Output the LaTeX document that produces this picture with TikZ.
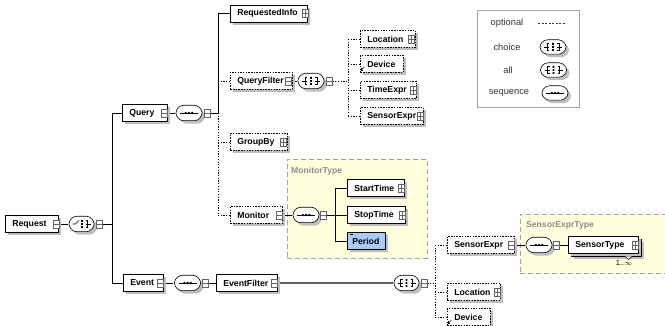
\documentclass[tikz,border=0pt]{standalone}
\usepackage{fontspec}
\setmainfont{Liberation Sans}
\usetikzlibrary{shadows,calc}
\pgfdeclarelayer{yellow}
\pgfdeclarelayer{lines}
\pgfsetlayers{yellow,lines,main}

\definecolor{ybg}{RGB}{255,255,222}
\definecolor{yborder}{RGB}{165,165,150}
\definecolor{shadowgray}{RGB}{190,190,190}
\definecolor{periodblue}{RGB}{168,204,244}
\definecolor{icongray}{RGB}{100,100,100}

\newcommand\compshape[1]{%
  \draw[line width=0.6pt, fill=white, rounded corners=3.5pt,
        general shadow={fill=shadowgray, shadow xshift=3pt, shadow yshift=-3pt}]
    (#1.west) -- ([xshift=5pt]#1.north west) -- ([xshift=-5pt]#1.north east) -- (#1.east)
    -- ([xshift=-5pt]#1.south east) -- ([xshift=5pt]#1.south west) -- cycle;}
\newcommand\seqsym[1]{%
  \begin{scope}[shift={(#1.center)}]
    \draw[line width=0.6pt] (-9,0) -- (9,0);
    \fill (-3.2,0) circle (1.3pt) (0,0) circle (1.3pt) (3.2,0) circle (1.3pt);
  \end{scope}}
\newcommand\allsym[1]{%
  \begin{scope}[shift={(#1.center)}, line width=0.6pt]
    \draw (-9,0) -- (-4,0);
    \draw (-4,-3.5) -- (-6,-3.5) -- (-6,3.5) -- (-4,3.5);
    \fill (-0.8,-4) rectangle (0.8,-2.2) (-0.8,-0.9) rectangle (0.8,0.9) (-0.8,2.2) rectangle (0.8,4);
    \draw (4,-3.5) -- (6,-3.5) -- (6,3.5) -- (4,3.5);
    \draw (4,0) -- (9,0);
  \end{scope}}
\newcommand\choicesym[1]{%
  \begin{scope}[shift={(#1.center)}, line width=0.6pt]
    \draw (-9,0) -- (-6,0) -- (-2.5,-3.5);
    \fill (-0.3,-4) rectangle (1.3,-2.2) (-0.3,-0.9) rectangle (1.3,0.9) (-0.3,2.2) rectangle (1.3,4);
    \draw (4,-3.5) -- (6,-3.5) -- (6,3.5) -- (4,3.5);
    \draw (4,0) -- (9,0);
  \end{scope}}

\begin{document}
\begin{tikzpicture}[x=1pt,y=-1pt,
  elem/.style={draw, fill=white, line width=0.6pt,
    font=\fontsize{8.7}{10}\selectfont\bfseries, inner xsep=7pt, inner ysep=0pt,
    minimum height=17pt, anchor=west, align=left,
    general shadow={fill=shadowgray, shadow xshift=3pt, shadow yshift=-3pt}},
  optelem/.style={elem, dash pattern=on 1.5pt off 1.2pt},
  pm/.style={draw=icongray, fill=white, line width=0.5pt, minimum width=6.5pt,
    minimum height=8pt, inner sep=0pt},
  minus/.style={pm, path picture={\draw[line width=0.5pt, icongray]
    (path picture bounding box.west) -- (path picture bounding box.east);}},
  plus/.style={pm, path picture={\draw[line width=0.5pt, icongray]
    (path picture bounding box.west) -- (path picture bounding box.east)
    (path picture bounding box.north) -- (path picture bounding box.south);}},
  comp/.style={minimum width=28pt, minimum height=15pt, inner sep=0pt},
  lcomp/.style={minimum width=28pt, minimum height=14pt, inner sep=0pt},
  ybox/.style={draw=yborder, fill=ybg, dash pattern=on 5pt off 3pt, line width=0.6pt,
    anchor=north west, inner sep=0pt},
  ylabel/.style={anchor=west, font=\fontsize{8.6}{10}\selectfont\bfseries, text=black!45, inner sep=0pt},
  lgtext/.style={font=\fontsize{9.3}{11}\selectfont, text=black!80, inner sep=0pt},
  conn/.style={line width=0.6pt},
  opt/.style={line width=0.6pt, dash pattern=on 1.2pt off 1.5pt},
]
\useasboundingbox (0,0) rectangle (665,326);

% ---------- yellow type boxes ----------
\begin{pgfonlayer}{yellow}
\node[ybox, minimum width=140pt, minimum height=99pt] (mt) at (287,159) {};
\node[ybox, minimum width=160pt, minimum height=59pt] (sett) at (520,214) {};
\end{pgfonlayer}
\node[ylabel] (mtl) at (291,171) {MonitorType};
\node[ylabel] (settl) at (526,225) {SensorExprType};

% ---------- legend ----------
\node[draw=gray!70, line width=0.6pt, minimum width=102pt, minimum height=97pt,
      anchor=north west, inner sep=0pt] (lg) at (477,10) {};
\node[lgtext] (lg1) at (507,23) {optional};
\node[lgtext] (lg2) at (507,47) {choice};
\node[lgtext] (lg3) at (508,70) {all};
\node[lgtext] (lg4) at (509,93) {sequence};
\coordinate (lgd1) at (538,23);
\coordinate (lgd2) at (566,23);
\draw[line width=0.6pt, black!80, dash pattern=on 2pt off 1.5pt] (lgd1) -- (lgd2);
\node[lcomp] (lgc) at (553,47) {};
\node[lcomp] (lga) at (553.5,70) {};
\node[lcomp] (lgs) at (555,93) {};
\compshape{lgc}\allsym{lgc}
\compshape{lga}\allsym{lga}
\compshape{lgs}\seqsym{lgs}

% ---------- elements ----------
\node[elem, text width=39pt] (request) at (5,224) {Request};
\node[elem, text width=31pt] (query) at (122,113) {Query};
\node[elem, text width=26pt] (event) at (123,283) {Event};
\node[elem, text width=63pt] (rinfo) at (230,13.5) {RequestedInfo};
\node[optelem, text width=48pt] (qfilter) at (230,81) {QueryFilter};
\node[optelem, text width=43pt] (groupby) at (230,142) {GroupBy};
\node[optelem, text width=38pt] (monitor) at (230,215) {Monitor};
\node[optelem, text width=41pt] (loc1) at (360,39) {Location};
\node[optelem, text width=29pt] (dev1) at (360,64) {Device};
\node[optelem, text width=42pt] (texpr) at (360,90) {TimeExpr};
\node[optelem, text width=49pt] (sexpr1) at (360,116) {SensorExpr};
\node[elem, text width=43pt] (start) at (347,188) {StartTime};
\node[elem, text width=44pt] (stop) at (347,215) {StopTime};
\node[elem, fill=periodblue, inner xsep=5pt, text width=28pt] (period) at (347,241) {Period};
\node[elem, text width=47pt] (efilter) at (216,283) {EventFilter};
\node[optelem, text width=53pt] (sexpr2) at (447,245) {SensorExpr};
\node[elem, text width=56pt] (stypeb) at (571,248) {\phantom{SensorType}};
\node[elem, text width=56pt] (stype) at (568,245) {SensorType};
\node[optelem, text width=39pt] (loc2) at (447,292) {Location};
\node[optelem, text width=29pt] (dev2) at (447,317) {Device};

% marks
\draw[line width=0.8pt] (349.5,234.5) -- (352.5,234.5);
\draw[line width=0.6pt] (361,70.5) -- (364.5,67);
\draw[line width=0.6pt] (361,68.3) -- (361,70.5) -- (363.2,70.5);
\draw[line width=0.6pt] (448,323.5) -- (451.5,320);
\draw[line width=0.6pt] (448,321.3) -- (448,323.5) -- (450.2,323.5);
\draw[line width=0.5pt, fill=white] (625,256.5) -- (628.5,259.5) -- (632,256.5);
\node[font=\fontsize{7.5}{9}\selectfont, inner sep=0pt] (stmult) at (624,263) {1..$\infty$};

% ---------- compositors ----------
\node[comp, minimum width=27pt] (c1) at (81.5,224) {};
\node[comp] (c2) at (189,113) {};
\node[comp] (c3) at (311,81) {};
\node[comp] (c4) at (306,215) {};
\node[comp] (c5) at (187.5,283) {};
\node[comp, minimum width=27pt] (c6) at (406.5,283) {};
\node[comp] (c7) at (539,245) {};
\compshape{c1}\choicesym{c1}
\compshape{c2}\seqsym{c2}
\compshape{c3}\allsym{c3}
\compshape{c4}\seqsym{c4}
\compshape{c5}\seqsym{c5}
\compshape{c6}\allsym{c6}
\compshape{c7}\seqsym{c7}

% ---------- +/- icons ----------
\node[minus] (requestm) at (56,224) {};
\node[minus] (querym) at (164,113) {};
\node[minus] (eventm) at (160,283) {};
\node[plus] (rinfom) at (305,13.5) {};
\node[minus] (qfilterm) at (288,81) {};
\node[plus] (groupbym) at (283,142) {};
\node[minus] (monitorm) at (279,215) {};
\node[plus] (loc1m) at (411,39) {};
\node[plus] (texprm) at (413,90) {};
\node[plus] (sexpr1m) at (420,116) {};
\node[plus] (startm) at (401,188) {};
\node[plus] (stopm) at (402,215) {};
\node[minus] (efilterm) at (274,283) {};
\node[minus] (sexpr2m) at (511,245) {};
\node[plus] (stypem) at (635,245) {};
\node[plus] (loc2m) at (497,292) {};
\node[minus] (c1m) at (99,224) {};
\node[minus] (c2m) at (207,113) {};
\node[minus] (c3m) at (329,81) {};
\node[minus] (c4m) at (323,215) {};
\node[minus] (c5m) at (205,283) {};
\node[minus] (c6m) at (424,283) {};
\node[minus] (c7m) at (556,245) {};

% ---------- connectors ----------
\coordinate (j1) at (112,224);
\coordinate (j2) at (218,113);
\coordinate (j3) at (348,81);
\coordinate (j4) at (335,215);
\coordinate (j6) at (435,283);
\begin{pgfonlayer}{lines}
\draw[conn] (requestm.east) -- (c1.west);
\draw[conn] (c1m.east) -- (j1);
\draw[conn] (j1 |- query.west) -- (j1 |- event.west);
\draw[conn] (j1 |- query.west) -- (query.west);
\draw[conn] (j1 |- event.west) -- (event.west);
\draw[conn] (querym.east) -- (c2.west);
\draw[conn] (c2m.east) -- (j2);
\draw[conn] (j2 |- rinfo.west) -- (j2);
\draw[opt] (j2) -- (j2 |- monitor.west);
\draw[conn] (j2 |- rinfo.west) -- (rinfo.west);
\draw[opt] (j2 |- qfilter.west) -- (qfilter.west);
\draw[opt] (j2 |- groupby.west) -- (groupby.west);
\draw[opt] (j2 |- monitor.west) -- (monitor.west);
\draw[conn] (qfilterm.east) -- (c3.west);
\draw[opt] (c3m.east) -- (j3);
\draw[opt] (j3 |- loc1.west) -- (j3 |- sexpr1.west);
\draw[opt] (j3 |- loc1.west) -- (loc1.west);
\draw[opt] (j3 |- dev1.west) -- (dev1.west);
\draw[opt] (j3 |- texpr.west) -- (texpr.west);
\draw[opt] (j3 |- sexpr1.west) -- (sexpr1.west);
\draw[conn] (monitorm.east) -- (c4.west);
\draw[conn] (c4m.east) -- (j4);
\draw[conn] (j4 |- start.west) -- (j4 |- period.west);
\draw[conn] (j4 |- start.west) -- (start.west);
\draw[conn] (j4 |- stop.west) -- (stop.west);
\draw[conn] (j4 |- period.west) -- (period.west);
\draw[conn] (eventm.east) -- (c5.west);
\draw[conn] (c5m.east) -- (efilter.west);
\draw[line width=1.3pt, gray!75!black] (efilterm.east) -- (c6.west);
\draw[opt] (c6m.east) -- (j6);
\draw[opt] (j6 |- sexpr2.west) -- (j6 |- dev2.west);
\draw[opt] (j6 |- sexpr2.west) -- (sexpr2.west);
\draw[opt] (j6 |- loc2.west) -- (loc2.west);
\draw[opt] (j6 |- dev2.west) -- (dev2.west);
\draw[conn] (sexpr2m.east) -- (c7.west);
\draw[conn] (c7m.east) -- (stype.west);
\end{pgfonlayer}
\end{tikzpicture}
\end{document}
